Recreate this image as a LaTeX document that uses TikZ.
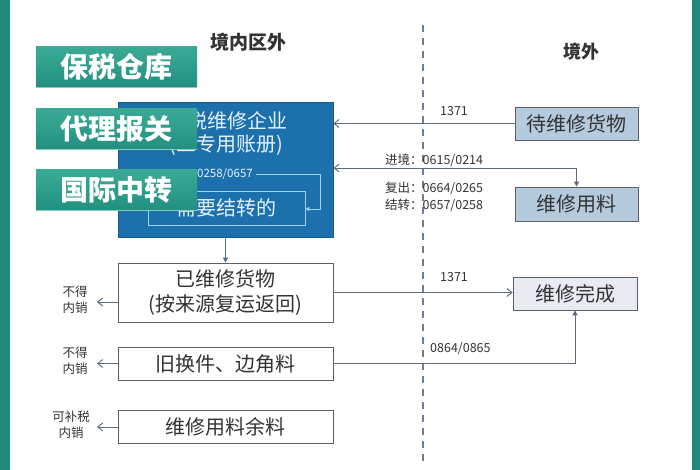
\documentclass[tikz,border=0pt]{standalone}
\usepackage{fontspec}
\setmainfont{Noto Sans CJK SC}
\usetikzlibrary{arrows.meta}
\definecolor{sidebar}{HTML}{1F8A7C}
\definecolor{greentop}{HTML}{3AAA96}
\definecolor{greenbot}{HTML}{23907F}
\definecolor{bluebox}{HTML}{1C70AC}
\definecolor{blueline}{HTML}{9ED4F2}
\definecolor{bluetext}{HTML}{E6F2FC}
\definecolor{extfill}{HTML}{B6CADE}
\definecolor{finfill}{HTML}{E6ECF2}
\definecolor{boxline}{HTML}{5A5F66}
\definecolor{conn}{HTML}{5F6B78}
\definecolor{dashc}{HTML}{6E7F92}
\definecolor{txt}{HTML}{333333}
\begin{document}
\begin{tikzpicture}[x=1pt,y=-1pt,
  graybox/.style={draw=boxline, line width=0.8pt, fill=white, text=txt,
    font=\fontsize{20}{25}\selectfont, align=center, inner sep=0pt},
  extbox/.style={graybox, fill=extfill},
  greenlabel/.style={top color=greentop, bottom color=greenbot, draw=none,
    text=white, font=\fontsize{28}{30}\selectfont\bfseries,
    minimum width=161pt, minimum height=40pt, inner sep=0pt},
  small/.style={font=\fontsize{12.5}{15}\selectfont, text=txt, inner sep=0pt},
  side/.style={font=\fontsize{12.5}{15.5}\selectfont, text=txt, align=center, inner sep=0pt},
  conn/.style={draw=conn, line width=0.9pt},
  open/.style={conn, -{Straight Barb[length=5pt,width=8pt]}},
  filled/.style={conn, -{Triangle[length=5pt,width=5pt]}},
  head/.style={font=\fontsize{19}{22}\selectfont\bfseries, text=txt, inner sep=0pt}
]
\useasboundingbox (0,0) rectangle (700,470);
\fill[white] (0,0) rectangle (700,470);
\fill[sidebar] (0,0) rectangle (10,470);
\fill[sidebar] (692,0) rectangle (700,470);

% headers
\node[head] (hin) at (248,42) {境内区外};
\node[head, font=\fontsize{18}{21}\selectfont\bfseries] (hout) at (581,52) {境外};

% dashed border
\coordinate (dtop) at (423,25);
\coordinate (dbot) at (423,463);
\draw[dashc, line width=1.5pt, dash pattern=on 7pt off 6pt] (dtop) -- (dbot);

% blue enterprise box
\node[draw=bluebox!80!black, fill=bluebox, line width=0.8pt,
  minimum width=215pt, minimum height=135pt, inner sep=0pt] (blue) at (225.5,169.5) {};
\node[font=\fontsize{20}{24}\selectfont, text=bluetext, inner sep=0pt] (bt1) at (227,121) {保税维修企业};
\node[font=\fontsize{20}{24}\selectfont, text=bluetext, inner sep=0pt] (bt2) at (226,145) {(三专用账册)};
\node[font=\fontsize{11.5}{14}\selectfont, text=bluetext, inner sep=0pt, anchor=west] (code) at (197,174) {0258/0657};
\node[draw=blueline, line width=0.8pt, minimum width=157pt, minimum height=34pt,
  inner sep=0pt, text=bluetext, font=\fontsize{20}{24}\selectfont] (need) at (226.5,208) {需要结转的};
\coordinate (lp1) at (320,174);
\coordinate (lp2) at (320,209);
\draw[draw=blueline, line width=0.9pt, -{Triangle[length=4pt,width=4pt]}]
  (code.east) ++(3,0) -- (lp1) -- (lp2) -- (need.east |- lp2);

% green overlay labels
\node[greenlabel] (g1) at (116.5,67) {保税仓库};
\node[greenlabel] (g2) at (116.5,129) {代理报关};
\node[greenlabel] (g3) at (116.5,190) {国际中转};
\draw[greentop!60!white, line width=1.2pt] (g1.south west) -- (g1.south east);
\draw[greentop!60!white, line width=1.2pt] (g2.south west) -- (g2.south east);
\draw[greentop!60!white, line width=1.2pt] (g3.south west) -- (g3.south east);

% outside boxes
\node[extbox, minimum width=123pt, minimum height=33pt] (wait) at (576.5,123.5) {待维修货物};
\node[extbox, minimum width=123pt, minimum height=34pt] (mat) at (576.5,204) {维修用料};
\node[graybox, fill=finfill, minimum width=124pt, minimum height=33pt] (fin) at (575,293.5) {维修完成};

% inside boxes
\node[graybox, minimum width=215pt, minimum height=59pt] (done) at (225.5,292.5) {已维修货物\\(按来源复运返回)};
\node[graybox, minimum width=215pt, minimum height=33pt] (old) at (225.5,363.5) {旧换件、边角料};
\node[graybox, minimum width=215pt, minimum height=33pt] (rem) at (225.5,426.5) {维修用料余料};

% connectors top
\draw[open] (wait.west) -- (wait.west -| blue.east);
\node[small] (l1371a) at (454,111) {1371};
\coordinate (j) at (576.5,168);
\draw[open] (j) -- (j -| blue.east);
\draw[filled] (j) -- (mat.north);
\node[small, anchor=west] (lin) at (385,160) {进境：0615/0214};
\node[small, anchor=west] (lout) at (385,188) {复出：0664/0265};
\node[small, anchor=west] (ltr) at (385,205) {结转：0657/0258};

% down arrow
\draw[filled, draw=conn!70!bluebox] (blue.south) -- (done.north);

% bottom connectors
\draw[open] (done.east) -- (done.east -| fin.west);
\node[small] (l1371b) at (454,277) {1371};
\coordinate (k) at (575,363.5);
\draw[conn] (old.east) -- (k);
\draw[filled] (k) -- (fin.south);
\node[small, anchor=west] (l0864) at (430,349) {0864/0865};

% left arrows
\coordinate (a1) at (97,302);
\coordinate (a2) at (97,363.5);
\coordinate (a3) at (97,427);
\draw[open] (done.west |- a1) -- (a1);
\draw[open] (old.west) -- (a2);
\draw[open] (rem.west |- a3) -- (a3);
\node[side] (s1) at (75,300) {不得\\内销};
\node[side] (s2) at (75,361) {不得\\内销};
\node[side] (s3) at (71,425) {可补税\\内销};
\end{tikzpicture}
\end{document}
